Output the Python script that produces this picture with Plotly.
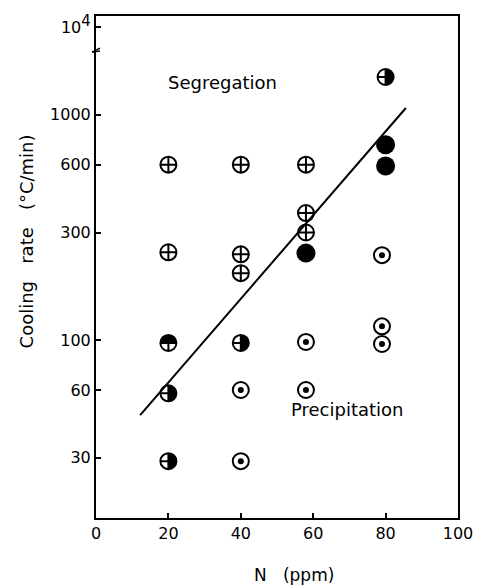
import numpy as np
import plotly.graph_objects as go

# ---- data ----
seg_x = [20, 40, 58, 20, 40, 40, 58, 58]           # segregation (crossed circles)
seg_y = [600, 600, 600, 245, 240, 198, 366, 300]
full_x = [58, 80, 80]                               # filled circles
full_y = [243, 735, 592]
prec_x = [79, 79, 79, 58, 58, 40, 40]               # precipitation (dotted circles)
prec_y = [238, 115, 96, 98, 60, 60, 29]
halfR_x = [80, 40, 20, 20]                          # crossed circles, right half black
halfR_y = [1470, 97, 58, 29]
halfT_x = [20]                                      # crossed circle, upper half black
halfT_y = [97]
line_x = [12.2, 85.6]                               # boundary line
line_y = [46.4, 1071]

ytick_vals = [30, 60, 100, 300, 600, 1000, 2449]
ytick_text = ["30", "60", "100", "300", "600", "1000",
              "10<sup><span style='font-size:15px'>4</span></sup>"]
xtick_vals = [0, 20, 40, 60, 80, 100]

# ---- layout constants ----
W, H = 485, 585
ML, MR, MT, MB = 96, 20, 16, 67
YLO, YHI = 1.210, 3.438
px_x = (W - ML - MR) / 100.0
px_dec = (H - MT - MB) / (YHI - YLO)

FONT = "DejaVu Sans, sans-serif"


def half_disk(xs, ys, a0, a1, r=8.0):
    px, py = [], []
    t = np.linspace(a0, a1, 40)
    for cx, cy in zip(xs, ys):
        px += list(cx + r * np.cos(t) / px_x) + [cx + r * np.cos(a0) / px_x, None]
        py += list(cy * 10 ** (r * np.sin(t) / px_dec)) + [cy * 10 ** (r * np.sin(a0) / px_dec), None]
    return px, py


fig = go.Figure()

# boundary line
fig.add_trace(go.Scatter(x=line_x, y=line_y, mode="lines",
                         line=dict(color="black", width=2), hoverinfo="skip"))

# half-filled fills
hx, hy = half_disk(halfR_x, halfR_y, -np.pi / 2, np.pi / 2)
fig.add_trace(go.Scatter(x=hx, y=hy, mode="lines", fill="toself",
                         fillcolor="black", line=dict(width=0, color="black")))
tx, ty = half_disk(halfT_x, halfT_y, 0, np.pi)
fig.add_trace(go.Scatter(x=tx, y=ty, mode="lines", fill="toself",
                         fillcolor="black", line=dict(width=0, color="black")))

# crossed circles (segregation + outlines of half-filled)
fig.add_trace(go.Scatter(x=seg_x + halfR_x + halfT_x, y=seg_y + halfR_y + halfT_y,
                         mode="markers",
                         marker=dict(symbol="circle-cross-open", size=16,
                                     color="black", line=dict(width=2, color="black"))))

# filled circles
fig.add_trace(go.Scatter(x=full_x, y=full_y, mode="markers",
                         marker=dict(symbol="circle", size=19, color="black",
                                     line=dict(width=0))))

# dotted circles
fig.add_trace(go.Scatter(x=prec_x, y=prec_y, mode="markers",
                         marker=dict(symbol="circle-open", size=16, color="black",
                                     line=dict(width=2, color="black"))))
fig.add_trace(go.Scatter(x=prec_x, y=prec_y, mode="markers",
                         marker=dict(symbol="circle", size=6, color="black",
                                     line=dict(width=0))))

fig.update_layout(
    width=W, height=H,
    margin=dict(l=ML, r=MR, t=MT, b=MB),
    paper_bgcolor="white", plot_bgcolor="white",
    showlegend=False,
    font=dict(family=FONT, size=16, color="black"),
    xaxis=dict(range=[0, 100], tickvals=xtick_vals, showgrid=False, zeroline=False,
               showline=True, linecolor="black", linewidth=2, mirror=True,
               ticks="inside", ticklen=5, tickwidth=1.5, tickcolor="black",
               tickfont=dict(size=16)),
    yaxis=dict(type="log", range=[YLO, YHI], tickvals=ytick_vals, ticktext=ytick_text,
               showgrid=False, zeroline=False,
               showline=True, linecolor="black", linewidth=2, mirror=True,
               ticks="inside", ticklen=5, tickwidth=1.5, tickcolor="black",
               tickfont=dict(size=16)),
    annotations=[
        dict(text="Segregation", x=35, y=np.log10(1396), xref="x", yref="y",
             xanchor="center", yanchor="middle", showarrow=False, font=dict(size=18)),
        dict(text="Precipitation", x=69.4, y=np.log10(49.4), xref="x", yref="y",
             xanchor="center", yanchor="middle", showarrow=False, font=dict(size=18)),
        dict(text="N&nbsp;&nbsp;&nbsp;(ppm)", x=0.547, y=-0.1135, xref="paper", yref="paper",
             xanchor="center", yanchor="middle", showarrow=False, font=dict(size=17)),
        dict(text="Cooling&nbsp;&nbsp;&nbsp;rate&nbsp;&nbsp;&nbsp;(°C/min)", x=-0.192, y=0.552,
             xref="paper", yref="paper", textangle=-90, xanchor="center", yanchor="middle",
             showarrow=False, font=dict(size=18)),
    ],
    shapes=[
        dict(type="line", xref="paper", yref="y", xsizemode="pixel", ysizemode="pixel",
             xanchor=0, yanchor=10 ** 3.278, x0=-4, x1=4, y0=-1, y1=4,
             line=dict(color="black", width=1.5)),
        dict(type="line", xref="paper", yref="y", xsizemode="pixel", ysizemode="pixel",
             xanchor=0, yanchor=10 ** 3.278, x0=-4, x1=4, y0=-4, y1=1,
             line=dict(color="black", width=1.5)),
    ],
)

fig.write_html("out.html")
